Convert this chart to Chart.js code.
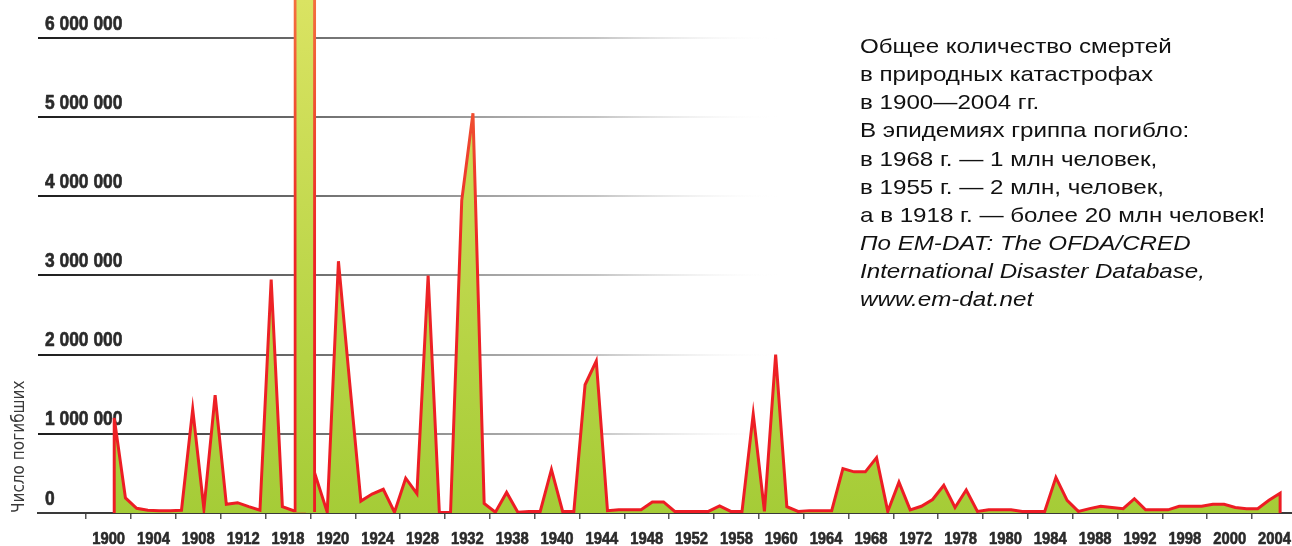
<!DOCTYPE html>
<html lang="ru">
<head>
<meta charset="utf-8">
<title>Число погибших в природных катастрофах, 1900—2004</title>
<script src="https://cdn.jsdelivr.net/npm/chart.js@4.4.1/dist/chart.umd.min.js"></script>
<style>
  html, body { margin: 0; padding: 0; background: #fff; }
  #wrap { position: relative; width: 1292px; height: 546px; overflow: hidden; }
  #deathsChart { display: block; }
  #note {
    position: absolute; left: 860px; top: 32px;
    font: 21px/28.15px "Liberation Sans", Arial, sans-serif;
    color: #111; white-space: nowrap;
    transform: scaleX(1.15); transform-origin: 0 0;
  }
  #note i { font-style: italic; }
</style>
</head>
<body>
<div id="wrap">
  <canvas id="deathsChart" width="1292" height="546"></canvas>
  <div id="note">
    Общее количество смертей<br>
    в природных катастрофах<br>
    в 1900—2004 гг.<br>
    В эпидемиях гриппа погибло:<br>
    в 1968 г. — 1 млн человек,<br>
    в 1955 г. — 2 млн, человек,<br>
    а в 1918 г. — более 20 млн человек!<br>
    <i>По EM-DAT: The OFDA/CRED<br>
    International Disaster Database,<br>
    www.em-dat.net</i>
  </div>
</div>
<script>
// deaths per year, 1900..2004
const firstYear = 1900;
const deaths = [
  1200000, 190000, 60000, 35000, 30000, 30000, 35000, 1310000, 50000, 1490000,
  110000, 130000, 80000, 35000, 2950000, 80000, 30000, 30000, 450000, 10000,
  3180000, 1650000, 150000, 240000, 300000, 10000, 440000, 245000, 3000000, 10000,
  5000, 3950000, 5050000, 120000, 10000, 260000, 10000, 20000, 20000, 550000,
  20000, 20000, 1620000, 1920000, 30000, 40000, 40000, 40000, 140000, 140000,
  20000, 20000, 20000, 20000, 90000, 20000, 20000, 1250000, 20000, 2000000,
  80000, 20000, 30000, 30000, 30000, 560000, 520000, 520000, 700000, 20000,
  390000, 40000, 85000, 170000, 350000, 70000, 290000, 20000, 40000, 40000,
  40000, 20000, 20000, 20000, 450000, 160000, 20000, 55000, 85000, 70000,
  55000, 180000, 40000, 40000, 40000, 85000, 85000, 85000, 110000, 110000,
  70000, 55000, 55000, 160000, 250000
];
const years = deaths.map((_, i) => firstYear + i);

// the 1918 flu pandemic column (runs far above the top of the scale)
const fluYear = 1917;
const fluDeaths = 21000000;

// x axis: one tick every 4 years, labels as printed
const xTickYears = [1900, 1904, 1908, 1912, 1916, 1920, 1924, 1928, 1932, 1936, 1940, 1944, 1948,
  1952, 1956, 1960, 1964, 1968, 1972, 1976, 1980, 1984, 1988, 1992, 1996, 2000, 2004];
const xTickLabels = ['1900', '1904', '1908', '1912', '1918', '1920', '1924', '1928', '1932', '1938',
  '1940', '1944', '1948', '1952', '1958', '1960', '1964', '1968', '1972', '1978', '1980', '1984',
  '1988', '1992', '1998', '2000', '2004'];
const yTicks = [0, 1000000, 2000000, 3000000, 4000000, 5000000, 6000000];

const fillStops = [[0, '#dae362'], [1, '#a5cc37']];
const lineStops = [[0, '#f3703e'], [0.25, '#ef4a2f'], [0.5, '#ed2426'], [1, '#ed1c24']];
const gridStops = [[0, '#1c1c1c'], [0.25, '#555555'], [0.5, '#8a8a8a'], [0.75, '#c2c2c2'], [1, 'rgba(255,255,255,0)']];

const labelFont = '"Liberation Sans", Arial, sans-serif';
const narrow = '"DejaVu Sans Condensed", "Liberation Sans", sans-serif';

function vGradient(chart, stops) {
  const { ctx, chartArea } = chart;
  if (!chartArea) return stops[stops.length - 1][1];
  const g = ctx.createLinearGradient(0, chartArea.top, 0, chartArea.bottom);
  stops.forEach(([o, c]) => g.addColorStop(o, c));
  return g;
}

function gridGradient(chart) {
  const { ctx, chartArea } = chart;
  if (!chartArea) return '#888';
  const g = ctx.createLinearGradient(chartArea.left, 0, 780, 0);
  gridStops.forEach(([o, c]) => g.addColorStop(o, c));
  return g;
}

function spaced(v) {
  return String(v).replace(/\B(?=(\d{3})+(?!\d))/g, ' ');
}

// condensed heavy tick labels, drawn at the scales' own tick positions
// (before the datasets, so the area chart sits on top of them)
const condensedTicks = {
  id: 'condensedTicks',
  beforeDatasetsDraw(chart) {
    const { ctx, scales: { x, y } } = chart;
    const put = (text, px, py) => {
      ctx.save();
      ctx.translate(px, py);
      ctx.scale(0.87, 1);
      ctx.strokeText(text, 0, 0);
      ctx.fillText(text, 0, 0);
      ctx.restore();
    };
    ctx.save();
    ctx.fillStyle = '#2a2a2a';
    ctx.strokeStyle = '#2a2a2a';
    ctx.lineWidth = 0.6;
    ctx.lineJoin = 'round';
    ctx.textBaseline = 'alphabetic';

    ctx.font = 'bold 20px ' + labelFont;
    ctx.textAlign = 'left';
    y.ticks.forEach(t => put(spaced(t.value), y.right + 7, y.getPixelForValue(t.value) - 8.5));

    ctx.font = 'bold 17px ' + labelFont;
    ctx.textAlign = 'center';
    x.ticks.forEach((t, i) => put(xTickLabels[i], x.getPixelForValue(t.value), 544));
    ctx.restore();
  }
};

// close the outline down to zero at both ends
const points = years.map((y, i) => ({ x: y, y: deaths[i] }));
points.unshift({ x: years[0], y: 0 });
points.push({ x: years[years.length - 1], y: 0 });

new Chart(document.getElementById('deathsChart'), {
  type: 'line',
  data: {
    datasets: [
      {
        type: 'bar',
        data: [{ x: fluYear, y: fluDeaths }],
        barThickness: 22,
        borderWidth: 3,
        borderSkipped: 'bottom',
        backgroundColor: c => vGradient(c.chart, fillStops),
        borderColor: c => vGradient(c.chart, lineStops),
        order: 0
      },
      {
        data: points,
        fill: 'origin',
        tension: 0,
        borderWidth: 3,
        pointRadius: 0,
        backgroundColor: c => vGradient(c.chart, fillStops),
        borderColor: c => vGradient(c.chart, lineStops),
        order: 1
      }
    ]
  },
  plugins: [condensedTicks],
  options: {
    responsive: false,
    animation: false,
    layout: { padding: 0 },
    plugins: { legend: { display: false }, tooltip: { enabled: false } },
    scales: {
      x: {
        type: 'linear',
        min: 1893.2,
        max: 2005.06,
        offset: false,
        afterBuildTicks: s => { s.ticks = xTickYears.map(y => ({ value: y - 0.5 })); },
        afterFit: s => { s.height = 33; s.paddingLeft = 0; s.paddingRight = 0; },
        ticks: { display: false },
        grid: { drawOnChartArea: false, drawTicks: true, tickLength: 6, color: '#555', lineWidth: 1.5 },
        border: { display: true, color: '#3a3a3a', width: 2 }
      },
      y: {
        min: 0,
        max: 6480000,
        afterBuildTicks: s => { s.ticks = yTicks.map(v => ({ value: v })); },
        afterFit: s => { s.width = 38; s.paddingTop = 0; s.paddingBottom = 0; },
        ticks: { display: false },
        grid: {
          drawTicks: false,
          lineWidth: 2,
          color: c => (c.tick && c.tick.value === 0) ? 'rgba(0,0,0,0)' : gridGradient(c.chart)
        },
        border: { display: false },
        title: {
          display: true,
          text: 'Число погибших',
          align: 'start',
          color: '#3a3a3a',
          font: { family: narrow, size: 17, weight: 'normal', lineHeight: 1 },
          padding: { top: 11, bottom: 10 }
        }
      }
    }
  }
});
</script>
</body>
</html>
